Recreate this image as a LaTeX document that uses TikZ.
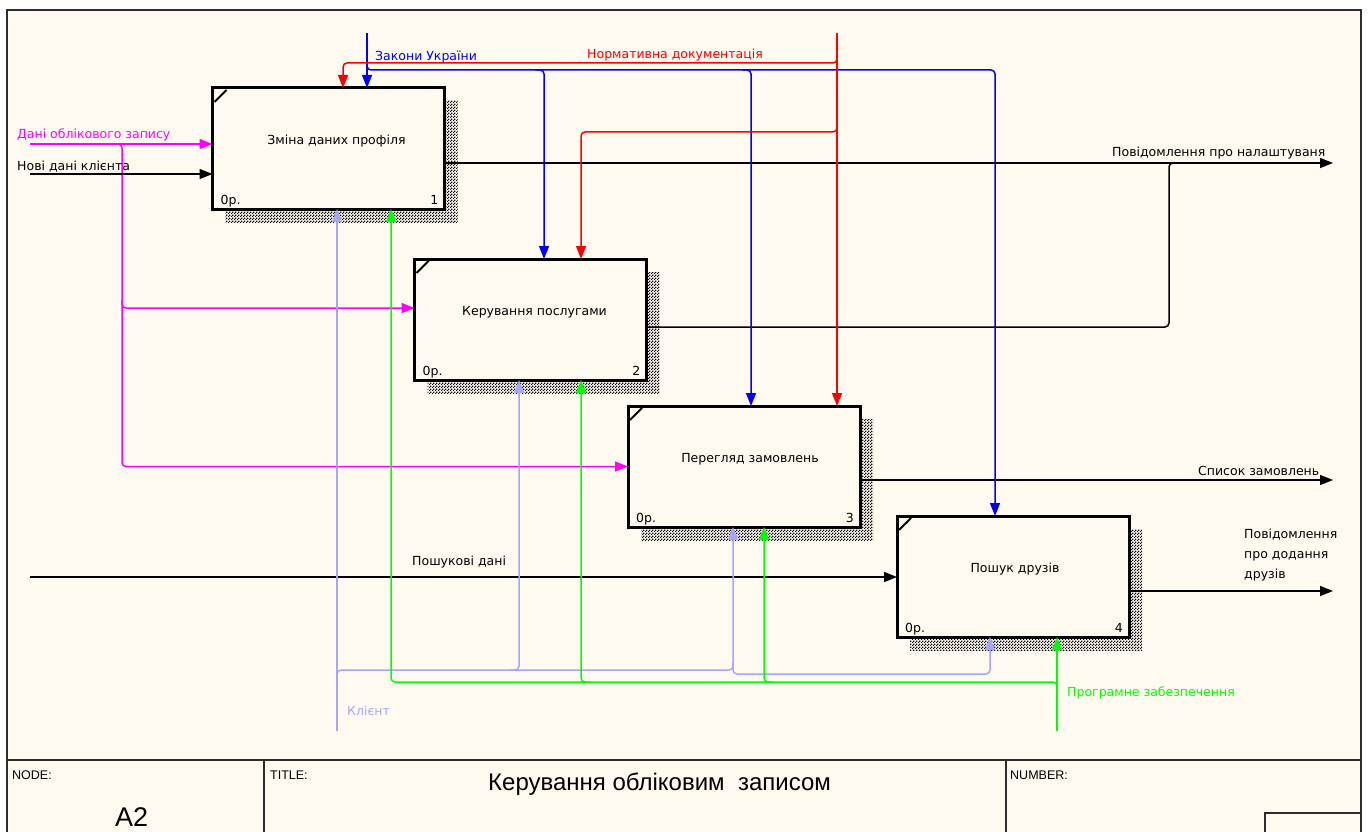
\documentclass[tikz,border=0pt]{standalone}
\usepackage{fontspec}
\setmainfont{DejaVu Sans}
\newfontfamily\arialfont{Liberation Sans}
\usetikzlibrary{arrows.meta,patterns}

\definecolor{paper}{RGB}{255,250,240}
\definecolor{ctlblue}{RGB}{0,0,255}
\definecolor{ctlred}{RGB}{255,0,0}
\definecolor{inmag}{RGB}{255,0,255}
\definecolor{mechlav}{RGB}{165,165,255}
\definecolor{mechgreen}{RGB}{0,255,0}
\definecolor{framegray}{RGB}{45,45,45}

% fine checkerboard used for the box shadows
\pgfdeclarepatternformonly{checkshadow}{\pgfqpoint{0pt}{0pt}}{\pgfqpoint{3pt}{3pt}}{\pgfqpoint{3pt}{3pt}}{%
  \pgfpathrectangle{\pgfqpoint{0pt}{0pt}}{\pgfqpoint{1.5pt}{1.5pt}}%
  \pgfpathrectangle{\pgfqpoint{1.5pt}{1.5pt}}{\pgfqpoint{1.5pt}{1.5pt}}%
  \pgfusepath{fill}}

\tikzset{
  act/.style={draw=black, line width=3pt, fill=paper, minimum width=232pt,
    minimum height=121pt, inner sep=0pt, outer sep=0pt},
  actshadow/.style={pattern=checkshadow, pattern color=black, minimum width=232pt,
    minimum height=121pt, inner sep=0pt, outer sep=0pt},
  lbl/.style={font=\fontsize{12.5}{15}\selectfont, inner sep=0pt, anchor=base west},
  acttext/.style={font=\fontsize{12.5}{15}\selectfont, inner sep=0pt, anchor=base},
  corner/.style={font=\fontsize{12.5}{15}\selectfont, inner sep=0pt},
  foot/.style={font=\arialfont\fontsize{12.5}{15}\selectfont, inner sep=0pt, anchor=base west},
  flow/.style={line width=1.5pt, rounded corners=4pt},
  tip/.style={-{Triangle[length=13pt,width=10pt]}},
}

\begin{document}
\begin{tikzpicture}[x=1pt,y=-1pt]
\useasboundingbox (0,0) rectangle (1368,832);
\fill[white] (0,0) rectangle (1368,832);
\fill[paper] (7,10) rectangle (1361,832);

% activity boxes with their shadows
\node[actshadow] (s1) at (341.5,161.5) {};
\node[act] (b1) at (328.5,148.5) {};
\node[actshadow] (s2) at (543.5,332.5) {};
\node[act] (b2) at (530.5,319.5) {};
\node[actshadow] (s3) at (757,479.5) {};
\node[act] (b3) at (744,466.5) {};
\node[actshadow] (s4) at (1026,589.5) {};
\node[act] (b4) at (1013,576.5) {};

\foreach \b/\n in {b1/1,b2/2,b3/3,b4/4}{
  \draw[line width=2pt] ([shift={(2,14)}]\b.north west) -- ([shift={(14,2)}]\b.north west);
  \node[corner, anchor=base west] at ([shift={(8,-5)}]\b.south west) {0р.};
  \node[corner, anchor=base east] at ([shift={(-6,-5)}]\b.south east) {\n};
}

\node[acttext] (t1) at ([shift={(8,-4)}]b1.center) {Зміна даних профіля};
\node[acttext] (t2) at ([shift={(4,-4)}]b2.center) {Керування послугами};
\node[acttext] (t3) at ([shift={(6,-4)}]b3.center) {Перегляд замовлень};
\node[acttext] (t4) at ([shift={(2,-4)}]b4.center) {Пошук друзів};

% free ends of the boundary arrows
\coordinate (srcData) at (30,144);
\coordinate (srcNew) at (30,174);
\coordinate (srcSearch) at (30,577);
\coordinate (srcLaw) at (367,33);
\coordinate (srcNorm) at (837,33);
\coordinate (srcClient) at (337,731);
\coordinate (srcSoft) at (1057,731);
\coordinate (outSet) at (1333,163);
\coordinate (outList) at (1333,480);
\coordinate (outFriends) at (1333,591);

% inputs
\draw[flow,inmag,tip] (srcData) -- (srcData -| b1.west);
\draw[flow,inmag,tip] (112,144) -| (122,308) -- (b2.west |- 0,308);
\draw[flow,inmag,tip] (122,300) |- (b3.west);
\draw[flow,black,tip] (srcNew) -- (srcNew -| b1.west);
\draw[flow,black,tip] (srcSearch) -- (srcSearch -| b4.west);

% outputs
\draw[flow,black,tip] (b1.east |- outSet) -- (outSet);
\draw[flow,black] (b2.east |- 0,327) -| (1169,163) -- (1180,163);
\draw[flow,black,tip] (b3.east |- outList) -- (outList);
\draw[flow,black,tip] (b4.east |- outFriends) -- (outFriends);

% controls
\draw[flow,ctlblue,tip] (srcLaw) -- (srcLaw |- b1.north);
\draw[flow,ctlblue,tip] (367,60) |- (995,70) -- (b4.north -| 995,0);
\draw[flow,ctlblue,tip] (535,70) -| (b2.north -| 544,0);
\draw[flow,ctlblue,tip] (742,70) -| (b3.north -| 751,0);
\draw[flow,ctlred,tip] (srcNorm) -- (srcNorm |- b3.north);
\draw[flow,ctlred,tip] (837,52) |- (343,63) -- (b1.north -| 343,0);
\draw[flow,ctlred,tip] (837,120) |- (581,132) -- (b2.north -| 581,0);

% mechanisms
\draw[flow,mechlav,tip] (srcClient) -- (srcClient |- b1.south);
\draw[flow,mechlav,tip] (337,680) |- (733,670) -- (b3.south -| 733,0);
\draw[flow,mechlav,tip] (510,670) -| (b2.south -| 519,0);
\draw[flow,mechlav,tip] (733,662) |- (990,674) -- (b4.south -| 990,0);
\draw[flow,mechgreen,tip] (srcSoft) -- (srcSoft |- b4.south);
\draw[flow,mechgreen,tip] (1057,692) |- (391,682) -- (b1.south -| 391,0);
\draw[flow,mechgreen,tip] (590,682) -| (b2.south -| 581,0);
\draw[flow,mechgreen,tip] (773,682) -| (b3.south -| 764,0);

% arrow labels
\node[lbl,text=inmag] (tData) at (17,139) {Дані облікового запису};
\node[lbl] (tNew) at (17,171) {Нові дані клієнта};
\node[lbl,text=ctlblue] (tLaw) at (375,61) {Закони України};
\node[lbl,text=ctlred] (tNorm) at (587,59) {Нормативна документація};
\node[lbl] (tSet) at (1112,157) {Повідомлення про налаштуваня};
\node[lbl] (tList) at (1198,475) {Список замовлень};
\node[font=\fontsize{12.5}{20}\selectfont, inner sep=0pt, align=left, anchor=north west] (tFr) at (1244,529) {Повідомлення\\про додання\\друзів};
\node[lbl] (tSearch) at (412,565) {Пошукові дані};
\node[lbl,text=mechlav] (tClient) at (347,715) {Клієнт};
\node[lbl,text=mechgreen] (tSoft) at (1067,696) {Програмне забезпечення};

% frame and title block
\draw[framegray, line width=2pt] (7,840) -- (7,10) -- (1361,10) -- (1361,840);
\draw[framegray, line width=2pt] (7,760) -- (1361,760);
\draw[framegray, line width=2pt] (264,760) -- (264,840);
\draw[framegray, line width=2pt] (1006,760) -- (1006,840);
\draw[framegray, line width=1.5pt] (1265,840) -- (1265,813) -- (1361,813);
\node[foot] (nodeLbl) at (12,779) {NODE:};
\node[foot] (titleLbl) at (270,779) {TITLE:};
\node[foot] (numLbl) at (1010,779) {NUMBER:};
\node[font=\arialfont\fontsize{27}{30}\selectfont, inner sep=0pt, anchor=base west] (nodeVal) at (115,826) {A2};
\node[font=\arialfont\fontsize{24}{28}\selectfont, inner sep=0pt, anchor=base west] (titleVal) at (488,790) {Керування обліковим\ \ записом};
\end{tikzpicture}
\end{document}
